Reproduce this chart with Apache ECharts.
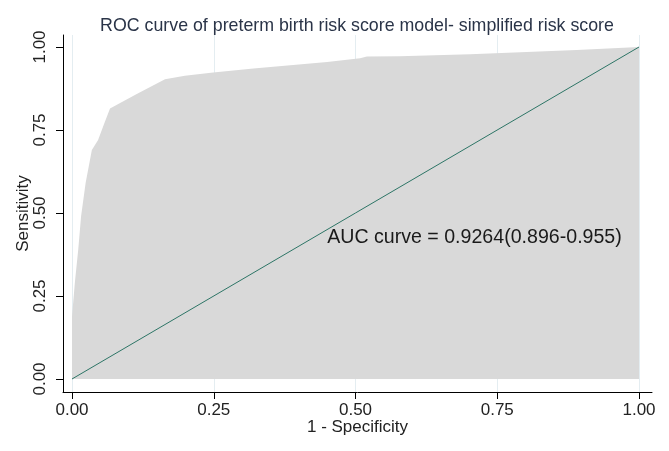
<!DOCTYPE html>
<html><head><meta charset="utf-8">
<script src="https://cdn.jsdelivr.net/npm/echarts@6/dist/echarts.min.js"></script>
<style>html,body{margin:0;padding:0;background:#fff}#c{width:669px;height:451px}</style>
</head><body><div id="c"></div>
<script>
// Data
const fpr  = [0, 0, 0.005, 0.011, 0.016, 0.024, 0.035, 0.046, 0.057, 0.067, 0.115, 0.164, 0.199, 0.249, 0.320, 0.390, 0.450, 0.508, 0.520, 0.578, 0.702, 0.813, 0.890, 1.0];
const sens = [0, 0.188, 0.29, 0.39, 0.49, 0.59, 0.69, 0.72, 0.77, 0.815, 0.859, 0.903, 0.913, 0.923, 0.935, 0.946, 0.955, 0.966, 0.971, 0.972, 0.978, 0.986, 0.991, 1.0];
const refX = [0, 1];
const refY = [0, 1];
const tickValues = [0, 0.25, 0.5, 0.75, 1];
const titleText = 'ROC curve of preterm birth risk score model- simplified risk score';
const aucText = 'AUC curve = 0.9264(0.896-0.955)';
const aucPos = [0.45, 0.425];

const font = 'Liberation Sans, Arial, sans-serif';
const chart = echarts.init(document.getElementById('c'), null, {renderer: 'canvas'});
chart.setOption({
  backgroundColor: '#ffffff',
  animation: false,
  title: {
    text: titleText, left: 352, top: 12, textAlign: 'center',
    textStyle: {fontFamily: font, fontSize: 17.8, fontWeight: 'normal', color: '#2a3448'}
  },
  grid: {left: 63, right: 17, top: 35, bottom: 59, containLabel: false},
  xAxis: {
    type: 'value', min: -0.0159, max: 1.0229,
    name: '1 - Specificity', nameLocation: 'middle', nameGap: 27, nameMoveOverlap: false,
    nameTextStyle: {fontFamily: font, fontSize: 17, color: '#222'},
    axisLine: {show: true, onZero: false, lineStyle: {color: '#000', width: 1}},
    axisTick: {show: true, length: 7, customValues: tickValues, lineStyle: {color: '#000'}},
    axisLabel: {customValues: tickValues, margin: 10, fontFamily: font, fontSize: 17, color: '#222',
      formatter: v => v.toFixed(2)},
    splitLine: {show: true, lineStyle: {color: '#e4edf1', width: 1}}
  },
  yAxis: {
    type: 'value', min: -0.0392, max: 1.0361,
    name: 'Sensitivity', nameLocation: 'middle', nameGap: 31, nameMoveOverlap: false,
    nameTextStyle: {fontFamily: font, fontSize: 17, color: '#222'},
    axisLine: {show: true, onZero: false, lineStyle: {color: '#000', width: 1}},
    axisTick: {show: true, length: 7, customValues: tickValues, lineStyle: {color: '#000'}},
    axisLabel: {customValues: tickValues, rotate: 90, margin: 14, fontFamily: font, fontSize: 17, color: '#222',
      formatter: v => v.toFixed(2)},
    splitLine: {show: false}
  },
  series: [
    {
      type: 'line', data: fpr.map((x, i) => [x, sens[i]]),
      showSymbol: false, symbol: 'none',
      lineStyle: {width: 0, opacity: 0},
      areaStyle: {color: '#d9d9d9', opacity: 1, origin: 0},
      z: 2
    },
    {
      type: 'line', data: refX.map((x, i) => [x, refY[i]]),
      showSymbol: false, symbol: 'none',
      lineStyle: {width: 1, color: '#2d7566'},
      z: 3,
      markPoint: {
        symbol: 'circle', symbolSize: 0, silent: true,
        data: [{coord: aucPos, value: aucText}],
        label: {show: true, position: 'right', distance: 0, formatter: aucText,
          fontFamily: font, fontSize: 19.6, color: '#1a1a1a'}
      }
    }
  ]
});
</script></body></html>
